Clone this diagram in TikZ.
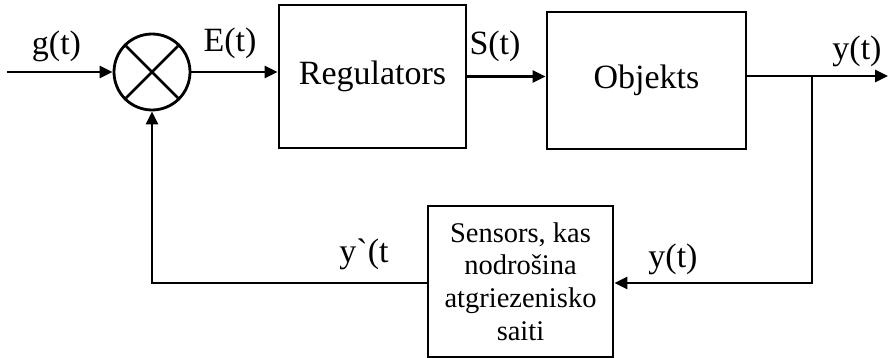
\documentclass[tikz,border=0pt]{standalone}
\usepackage{fontspec}
\setmainfont{Liberation Serif}
\usetikzlibrary{arrows.meta}
\begin{document}
\begin{tikzpicture}[x=1pt,y=-1pt,
  line width=2.8pt,
  arr/.style={-{Triangle[length=13pt,width=12pt]}},
  blk/.style={draw,rectangle,inner sep=0pt,font=\fontsize{34}{36}\selectfont},
  lbl/.style={anchor=base,inner sep=0pt,font=\fontsize{34}{36}\selectfont},
  sumc/.style={draw,circle,minimum size=76pt,inner sep=0pt}]
\useasboundingbox (0,0) rectangle (888,358);
\node[sumc] (sum) at (152,72) {};
\draw (sum.north west) -- (sum.south east) (sum.north east) -- (sum.south west);
\node[blk,minimum width=187pt,minimum height=143pt] (reg) at (372.5,76.5) {Regulators};
\node[blk,minimum width=199pt,minimum height=137pt] (obj) at (646.5,80.5) {Objekts};
\node[draw,rectangle,inner sep=0pt,minimum width=185pt,minimum height=151pt,align=center,
  font=\fontsize{28.5}{32.7}\selectfont] (sens) at (520.5,281.5)
  {Sensors, kas\\nodrošina\\atgriezenisko\\saiti};
\coordinate (in) at (7,72);
\coordinate (branch) at (812,76);
\coordinate (out) at (888,76);
\coordinate (fb) at (812,283);
\coordinate (fbl) at (152,283);
\draw[arr] (in) -- (sum.west);
\draw[arr] (sum.east) -- (sum.east -| reg.west);
\draw[arr] (reg.east) -- (reg.east -| obj.west);
\draw (branch -| obj.east) -- (branch);
\draw[arr] (branch) -- (out);
\draw[arr] (branch) -- (fb) -- (fb -| sens.east);
\draw[arr] (fb -| sens.west) -- (fbl) -- (sum.south);
\node[lbl] (lg) at (56.5,55) {g(t)};
\node[lbl] (le) at (230,52) {E(t)};
\node[lbl] (ls) at (495,55) {S(t)};
\node[lbl] (ly) at (857,60) {y(t)};
\node[lbl] (lyp) at (364,262) {y\textasciigrave(t};
\node[lbl] (ly2) at (673,267) {y(t)};
\end{tikzpicture}
\end{document}
